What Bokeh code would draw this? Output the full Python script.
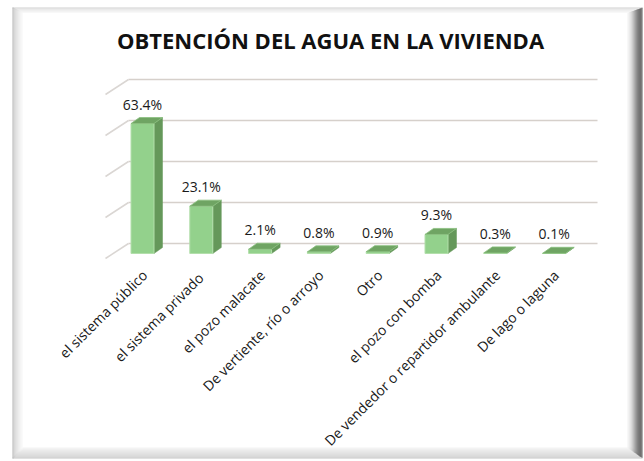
import numpy as np
from bokeh.plotting import figure
from bokeh.models import Range1d
from bokeh.core.properties import value
from bokeh.embed import file_html
from bokeh.resources import INLINE

# ---------------- data ----------------
title_text = "OBTENCIÓN DEL AGUA EN LA VIVIENDA"
categories = ["el sistema público", "el  sistema privado", "el pozo malacate",
              "De vertiente, río o arroyo", "Otro", "el pozo con bomba",
              "De vendedor o repartidor ambulante", "De lago o laguna"]
values = [63.4, 23.1, 2.1, 0.8, 0.9, 9.3, 0.3, 0.1]
grid_ticks = [0, 20, 40, 60, 80]

# ---------------- layout constants (pixels) ----------------
W, H = 644, 461
PXX = 58.8        # pixels per category
X0PX = 142.0      # pixel x of first category centre
PXV = 2.05        # pixels per percent
BASE_PY = 253.0   # pixel y (from top) of value 0 at the front


def px2x(px):
    return (px - X0PX) / PXX


def py2y(py):
    return (BASE_PY - py) / PXV


p = figure(width=W, height=H, x_range=Range1d(px2x(0), px2x(W)),
           y_range=Range1d(py2y(H), py2y(0)), min_border=0,
           toolbar_location=None, output_backend="svg",
           x_axis_location=None, y_axis_location=None,
           outline_line_color=None, background_fill_color="white",
           border_fill_color="white")
p.grid.visible = False

# ---------------- frame (bevel) ----------------
def stripes(side, start, colors):
    for k, c in enumerate(colors):
        if side == "left":
            p.quad(left=px2x(start + k), right=px2x(start + k + 1),
                   top=py2y(7 + k * 0.5), bottom=py2y(458 - k), fill_color=c, line_color=None)
        elif side == "top":
            p.quad(left=px2x(12 + k * 2), right=px2x(642 - k * 2),
                   top=py2y(start + k), bottom=py2y(start + k + 1), fill_color=c, line_color=None)
        elif side == "bottom":
            p.quad(left=px2x(12 + (10 - k)), right=px2x(642 - (10 - k)),
                   top=py2y(start + k), bottom=py2y(start + k + 1), fill_color=c, line_color=None)
        elif side == "right":
            p.quad(left=px2x(start + k), right=px2x(start + k + 1),
                   top=py2y(7 + (15 - k) * 0.35), bottom=py2y(458 - (15 - k) * 0.7),
                   fill_color=c, line_color=None)

stripes("top", 7, ["#cfcfcf", "#dedede", "#e6e6e6", "#ececec", "#f2f2f2"])
stripes("bottom", 447, ["#f4f4f4", "#eeeeee", "#e8e8e8", "#e4e4e4", "#e0e0e0",
                        "#dcdcdc", "#d8d8d8", "#d4d4d4", "#d0d0d0", "#cbcbcb", "#c4c4c4"])
stripes("left", 12, ["#b4b4b4", "#c4c4c4", "#cfcfcf", "#d6d6d6", "#dcdcdc",
                     "#e2e2e2", "#e8e8e8", "#eeeeee", "#f2f2f2", "#f6f6f6"])
stripes("right", 627, ["#f2f2f2", "#ececec", "#e2e2e2", "#d6d6d6", "#c8c8c8",
                       "#b6b6b6", "#a2a2a2", "#8e8e8e", "#7a7a7a", "#686868",
                       "#585858", "#4c4c4c", "#444444", "#404040", "#5a5a5a"])

# ---------------- gridlines (back wall) ----------------
back_dy = 10 / PXV
gx0, gx1, gdiag = px2x(128), px2x(597), px2x(105)
for g in grid_ticks:
    yb = g + back_dy
    p.line([gx0, gx1], [yb, yb], line_color="#d6d0cb", line_width=1.6)
    p.line([gdiag, gx0], [yb - 15 / PXV, yb], line_color="#dad6d3", line_width=1.5)

# ---------------- 3D bars ----------------
hw = 11.5 / PXX
ddx = 8.5 / PXX
ddy = 6 / PXV
xs = np.arange(len(values))
vals = np.array(values)

front_l, front_r = xs - hw, xs + hw
# side faces
side_xs = [[r, r + ddx, r + ddx, r] for r in front_r]
side_ys = [[0, ddy, v + ddy, v] for v in vals]
p.patches(side_xs, side_ys, fill_color="#65985a", line_color="#65985a", line_width=0.5)
# front faces
p.quad(left=front_l, right=front_r, bottom=0, top=vals,
       fill_color="#93d18c", line_color="#b3dfab", line_width=1)
# top faces
top_xs = [[l, l + ddx, r + ddx, r] for l, r in zip(front_l, front_r)]
top_ys = [[v, v + ddy, v + ddy, v] for v in vals]
p.patches(top_xs, top_ys, fill_color="#6fa463", line_color="#89bf7d", line_width=0.8)

# ---------------- value labels ----------------
p.text(x=xs, y=vals + ddy, text=[f"{v:.1f}%" for v in values],
       text_align="center", text_baseline="bottom", y_offset=-4,
       text_font=value("Open Sans"), text_font_size="14px", text_color="#1a1a1a")

# ---------------- category labels ----------------
p.text(x=xs + 2 / PXX, y=[py2y(272)] * len(xs), text=categories,
       angle=np.pi / 4, text_align="right", text_baseline="middle",
       text_font=value("Open Sans"), text_font_size="14px", text_color="#1a1a1a")

# ---------------- title ----------------
p.text(x=[px2x(330)], y=[py2y(39)], text=[title_text],
       text_align="center", text_baseline="alphabetic",
       text_font=value("Open Sans"), text_font_style="bold",
       text_font_size="22px", text_color="#111111")

open("out.html", "w").write(file_html(p, INLINE))
